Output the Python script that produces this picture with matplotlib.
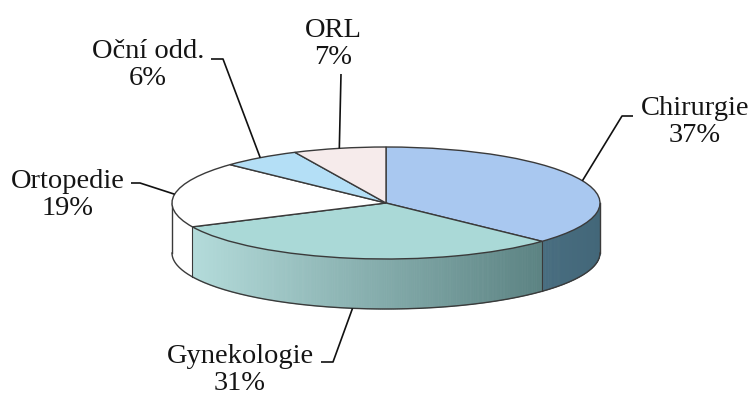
import numpy as np
import matplotlib
matplotlib.use("Agg")
import matplotlib.pyplot as plt
from matplotlib.patches import Polygon
from matplotlib.colors import to_rgb

# ---- data ----
categories = ["Chirurgie", "Gynekologie", "Ortopedie", "Oční odd.", "ORL"]
values = [37, 31, 19, 6, 7]
pct_labels = ["37%", "31%", "19%", "6%", "7%"]

# ---- style ----
top_colors = ["#a9c8f0", "#aad9d7", "#ffffff", "#b4dff6", "#f6ebeb"]
side_left = ["#6a98b0", "#b9e1e0", "#ffffff", "#b4dff6", "#f6ebeb"]
side_right = ["#436779", "#4d7474", "#ffffff", "#7fa0b0", "#c0b0b0"]
edge_col = "#3a3a3a"

W, H = 753, 401
CX, CY = 386, 203      # pie centre (pixels, y from top)
RX, RY = 214, 56       # ellipse radii in pixels
DEPTH = 50             # side wall depth in pixels

# label layout (pixels, y from top)
label_pos = [(695, 122), (240, 370), (68, 195), (148, 65), (333, 44)]
leader_knee = [(622, 116), (333, 362), (140, 183), (223, 59), (341, 74)]
leader_end = [(633, 116), (321, 362), (131, 183), (211, 59), (341, 74)]

fig = plt.figure(figsize=(W / 100, H / 100), dpi=100)
ax = fig.add_axes([0, 0, 1, 1])


def px(x, y):
    return (x - CX) / RX, (CY - y) / RY


d = DEPTH / RY
total = float(sum(values))
cum = np.concatenate([[0], np.cumsum(values)]) / total
theta = np.deg2rad(90 - 360 * cum)   # boundaries, clockwise from top

# ---- side walls ----
for i in range(len(values)):
    t_hi, t_lo = theta[i], theta[i + 1]
    ts = np.linspace(t_lo, t_hi, max(3, int(np.degrees(t_hi - t_lo) * 2)))
    cl = np.array(to_rgb(side_left[i]))
    cr = np.array(to_rgb(side_right[i]))
    for t0, t1 in zip(ts[:-1], ts[1:]):
        tm = 0.5 * (t0 + t1)
        if np.sin(tm) >= 0:
            continue
        x0, x1 = np.cos(t0), np.cos(t1)
        y0, y1 = np.sin(t0), np.sin(t1)
        frac = (np.cos(tm) + 1) / 2
        c = cl * (1 - frac) + cr * frac
        poly = Polygon([(x0, y0), (x1, y1), (x1, y1 - d), (x0, y0 - d)],
                       closed=True, facecolor=c, edgecolor=c, lw=0.6,
                       zorder=1)
        ax.add_patch(poly)

# bottom outline and verticals
tb = np.linspace(np.pi, 2 * np.pi, 300)
ax.plot(np.cos(tb), np.sin(tb) - d, color=edge_col, lw=1.0, zorder=2)
for xv in (-1, 1):
    ax.plot([xv, xv], [0, -d], color=edge_col, lw=1.0, zorder=2)
for t in theta:
    if np.sin(t) < -1e-6:
        ax.plot([np.cos(t)] * 2, [np.sin(t), np.sin(t) - d],
                color=edge_col, lw=0.8, zorder=2)

# ---- top face ----
wedges, _ = ax.pie(values, colors=top_colors, startangle=90,
                   counterclock=False, radius=1,
                   wedgeprops=dict(edgecolor=edge_col, linewidth=1.0,
                                   zorder=3))

# ---- labels with leader lines ----
for i, (name, pct) in enumerate(zip(categories, pct_labels)):
    m = 0.5 * (theta[i] + theta[i + 1])
    ax_x, ax_y = np.cos(m), np.sin(m)
    if ax_y < 0:
        ax_y -= d
    kx, ky = px(*leader_knee[i])
    ex, ey = px(*leader_end[i])
    ax.plot([ax_x, kx, ex], [ax_y, ky, ey], color="#111111", lw=1.2,
            zorder=4, solid_capstyle="butt")
    lx, ly = px(*label_pos[i])
    ax.text(lx, ly, f"{name}\n{pct}", ha="center", va="center",
            fontsize=20.5, family="Liberation Serif", color="#141414",
            linespacing=1.1, zorder=5)

ax.set_aspect("auto")
ax.set_xlim(-CX / RX, (W - CX) / RX)
ax.set_ylim(-(H - CY) / RY, CY / RY)
ax.axis("off")

fig.savefig("out.png", dpi=100, facecolor="white")
